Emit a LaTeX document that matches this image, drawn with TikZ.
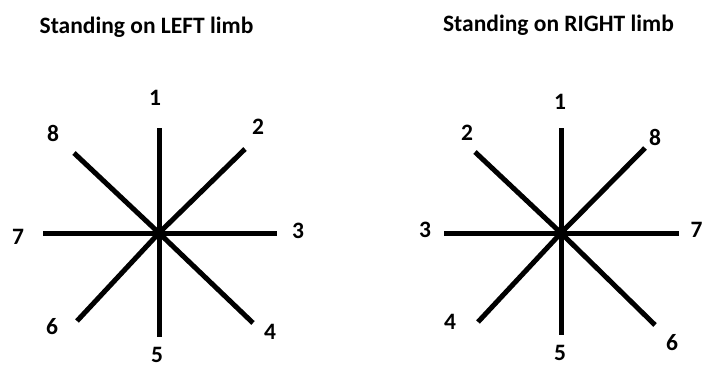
\documentclass[tikz,border=0pt]{standalone}
\usepackage{fontspec}
\setmainfont{Carlito}
\usetikzlibrary{positioning}

\tikzset{
  limb/.style={line width=5pt},
  dirno/.style={font=\bfseries\fontsize{23.5}{24}\selectfont, inner sep=0pt},
  heading/.style={font=\bfseries\fontsize{23.5}{26}\selectfont, inner sep=0pt}
}

\begin{document}
\begin{tikzpicture}[x=1pt, y=-1pt]
        \useasboundingbox (0,0) rectangle (704,370);

        % left limb
        \node[heading] (tl) at (146.5,27) {Standing on LEFT limb};
        \coordinate (lc) at (159,233);
        \coordinate (le1) at (159,128);
        \coordinate (le2) at (245,149);
        \coordinate (le3) at (277,233);
        \coordinate (le4) at (253,323);
        \coordinate (le5) at (159,337);
        \coordinate (le6) at (77,321);
        \coordinate (le7) at (43,233);
        \coordinate (le8) at (74,153);
        \node[dirno] (l1) at (155,98) {1};
        \node[dirno] (l2) at (258,127) {2};
        \node[dirno] (l3) at (298,231) {3};
        \node[dirno] (l4) at (270,332) {4};
        \node[dirno] (l5) at (157,355) {5};
        \node[dirno] (l6) at (52,327) {6};
        \node[dirno] (l7) at (18,237) {7};
        \node[dirno] (l8) at (53,133) {8};

        \draw[limb] (le1) -- (le5);
        \draw[limb] (le7) -- (le3);
        \draw[limb] (le8) -- (lc) -- (le4);
        \draw[limb] (le6) -- (lc) -- (le2);

        % right limb
        \node[heading] (tr) at (558.5,25) {Standing on RIGHT limb};
        \coordinate (rc) at (561,233);
        \coordinate (re1) at (561,128);
        \coordinate (re2) at (475,152);
        \coordinate (re3) at (444,233);
        \coordinate (re4) at (478,322);
        \coordinate (re5) at (561,335);
        \coordinate (re6) at (655,325);
        \coordinate (re7) at (679,233);
        \coordinate (re8) at (645,148);
        \node[dirno] (r1) at (560,102) {1};
        \node[dirno] (r2) at (467,133) {2};
        \node[dirno] (r3) at (425,230) {3};
        \node[dirno] (r4) at (450,322) {4};
        \node[dirno] (r5) at (560,353) {5};
        \node[dirno] (r6) at (672,343) {6};
        \node[dirno] (r7) at (696.5,230) {7};
        \node[dirno] (r8) at (655,137) {8};

        \draw[limb] (re1) -- (re5);
        \draw[limb] (re3) -- (re7);
        \draw[limb] (re2) -- (rc) -- (re6);
        \draw[limb] (re4) -- (rc) -- (re8);

    \end{tikzpicture}
\end{document}
